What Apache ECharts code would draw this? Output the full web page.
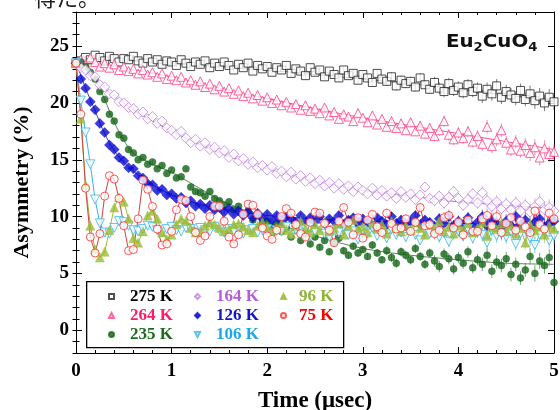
<!DOCTYPE html>
<html><head><meta charset="utf-8">
<script src="https://cdn.jsdelivr.net/npm/echarts@6/dist/echarts.min.js"></script>
<style>html,body{margin:0;padding:0;background:#fff}#c{width:560px;height:410px}</style>
</head><body><div id="c"></div>
<script>
const times = [0,0.05,0.1,0.15,0.2,0.25,0.3,0.35,0.4,0.45,
0.5,0.55,0.6,0.65,0.7,0.75,0.8,0.85,0.9,0.95,
1,1.05,1.1,1.15,1.2,1.25,1.3,1.35,1.4,1.45,
1.5,1.55,1.6,1.65,1.7,1.75,1.8,1.85,1.9,1.95,
2,2.05,2.1,2.15,2.2,2.25,2.3,2.35,2.4,2.45,
2.5,2.55,2.6,2.65,2.7,2.75,2.8,2.85,2.9,2.95,
3,3.05,3.1,3.15,3.2,3.25,3.3,3.35,3.4,3.45,
3.5,3.55,3.6,3.65,3.7,3.75,3.8,3.85,3.9,3.95,
4,4.05,4.1,4.15,4.2,4.25,4.3,4.35,4.4,4.45,
4.5,4.55,4.6,4.65,4.7,4.75,4.8,4.85,4.9,4.95,
5];

const a275 = [23.5,23.7,24.0,23.8,24.2,24.0,23.7,24.1,23.9,23.6,
23.9,23.8,24.1,23.7,23.5,23.9,23.6,23.8,23.4,23.7,
23.6,23.3,23.8,23.5,23.2,23.6,23.4,23.7,23.1,23.5,
23.2,23.6,23.3,22.9,23.4,23.1,23.5,22.8,23.3,23.0,
23.2,22.7,23.1,22.9,23.3,22.6,23.0,22.8,22.4,23.1,
22.7,22.9,22.3,22.8,22.5,22.2,22.9,22.4,22.6,22.0,
22.5,22.2,21.8,22.6,22.1,21.9,22.3,21.5,22.0,21.7,
21.9,21.4,22.2,21.6,21.2,21.8,21.3,21.0,21.7,21.1,
21.4,20.9,21.6,21.0,21.3,20.6,21.2,20.8,21.5,20.5,
21.0,20.7,20.4,21.1,20.3,20.8,20.2,20.6,20.0,20.5,
20.1];
const a264 = [23.5,23.8,23.4,24.0,23.6,23.2,23.5,23.1,23.4,22.9,
23.2,22.8,23.0,22.6,22.9,22.5,22.7,22.3,22.6,22.1,
22.4,22.0,22.3,21.8,22.0,21.6,21.9,21.4,21.7,21.2,
21.5,21.0,21.3,20.8,21.1,20.6,20.9,20.4,20.7,20.2,
20.5,20.0,20.3,19.8,20.1,19.6,19.9,19.4,19.8,19.3,
19.5,19.1,19.6,18.9,19.2,18.6,19.0,18.8,18.4,19.1,
18.7,18.3,18.9,18.1,18.6,17.9,18.4,17.8,18.2,17.6,
18.3,17.5,18.0,17.3,17.8,17.1,17.6,18.4,17.2,16.8,
17.4,16.9,17.5,16.6,17.1,16.4,17.9,16.2,16.8,17.6,
16.5,15.9,16.6,15.8,16.3,15.6,16.1,15.2,16.0,15.5,
15.7];
const a235 = [23.5,23.6,23.2,22.7,22.1,21.0,20.3,19.0,18.4,17.2,
16.9,15.9,15.6,15.0,15.2,14.6,14.8,14.2,14.5,13.8,
14.1,13.4,13.5,14.2,12.6,12.2,12.1,11.8,12.2,11.6,
11.4,11.0,11.3,10.6,10.9,10.2,10.5,9.7,10.1,9.4,
9.6,9.1,9.4,8.7,9.0,8.2,8.8,7.9,8.5,7.6,
8.2,7.3,7.9,6.9,7.7,8.1,7.0,6.6,7.4,6.8,
7.1,6.5,7.5,6.8,6.2,7.0,6.4,5.9,6.9,6.6,
6.2,7.2,6.5,5.8,6.8,6.1,5.6,6.7,6.3,5.4,
6.4,5.9,6.9,5.5,6.2,5.8,6.6,5.2,6.0,5.7,
6.3,4.9,5.8,4.6,5.3,6.5,5.0,6.1,5.7,6.4,
4.2];
const a164 = [23.5,23.1,22.9,22.4,22.3,21.6,21.4,20.8,20.7,20.1,
20.0,19.6,19.5,19.0,19.2,18.6,18.8,18.2,18.4,17.8,
17.6,17.2,17.5,16.9,16.5,16.8,16.2,16.5,15.9,16.1,
15.6,15.8,15.2,15.5,14.9,15.1,14.6,14.8,14.3,14.5,
14.1,14.4,13.8,14.0,13.5,13.9,13.3,13.6,13.1,13.4,
12.9,13.2,12.7,13.0,12.5,12.9,12.4,12.7,12.2,12.6,
12.3,12.0,12.5,11.9,12.3,11.8,12.1,11.6,12.2,11.7,
12.0,11.5,11.9,12.6,11.6,11.4,11.8,11.2,11.7,12.2,
11.6,11.0,11.5,12.0,11.2,12.1,11.4,10.9,11.3,10.7,
11.1,10.6,11.2,10.5,11.0,10.4,10.9,11.3,10.6,10.8,
10.5];
const a126 = [23.5,22.1,21.3,20.1,19.4,18.2,17.4,16.3,15.9,15.2,
14.9,14.3,14.2,13.6,13.4,12.9,12.8,12.3,12.4,11.9,
12.0,11.6,11.7,11.2,11.4,10.9,11.1,10.7,11.0,10.6,
10.8,10.4,10.7,10.2,10.5,10.1,10.4,9.9,10.3,9.8,
10.2,9.7,10.1,9.6,10.0,9.8,9.5,10.1,9.6,9.9,
9.5,10.0,9.4,9.8,9.6,10.1,9.3,9.7,9.9,9.4,
9.8,9.5,9.2,9.9,9.6,9.3,10.0,9.4,9.7,9.2,
9.6,10.1,9.3,9.7,9.5,9.1,9.8,9.4,10.0,9.2,
9.6,9.3,9.9,9.1,9.5,10.0,9.2,9.7,9.4,9.0,
9.6,9.2,10.0,9.3,9.7,8.9,9.5,9.8,9.1,9.4,
9.6];
const a106 = [23.5,20.2,17.4,14.6,11.5,9.4,8.6,8.5,9.0,9.6,
9.5,9.2,8.8,8.7,8.9,9.2,9.1,8.8,8.6,8.9,
9.1,8.8,8.7,9.0,8.9,8.6,9.0,8.8,8.7,9.1,
8.8,8.6,8.9,8.7,9.0,8.5,8.8,8.9,8.6,8.8,
8.9,8.5,8.8,8.7,9.1,8.4,8.8,8.6,8.9,8.3,
8.7,9.0,8.5,8.2,8.8,8.6,9.1,8.4,8.7,8.0,
8.8,8.5,9.0,8.3,8.7,8.1,8.9,8.4,8.6,8.2,
8.8,8.4,7.9,8.7,8.5,8.9,8.2,8.6,7.8,8.5,
8.7,8.3,8.9,8.1,8.6,8.4,7.7,8.8,8.3,8.5,
8.2,8.7,7.6,8.5,8.9,8.1,7.5,8.4,8.7,7.9,
8.3];
const a96 = [23.5,18.6,12.8,9.2,7.1,6.4,6.9,8.8,10.8,11.7,
11.3,9.8,8.1,7.7,8.7,10.1,10.5,9.8,8.6,8.0,
8.4,9.3,9.8,9.6,9.0,8.6,8.7,9.2,9.5,9.3,
9.0,8.7,8.9,9.3,9.4,9.1,8.8,8.6,9.2,9.5,
9.1,8.7,9.0,9.4,8.8,8.5,9.2,9.6,9.0,8.6,
9.3,8.8,9.5,8.7,9.0,9.4,8.4,9.2,9.7,8.9,
9.1,8.6,9.4,8.9,9.3,8.5,9.6,9.0,8.7,9.2,
8.8,9.5,9.0,8.4,9.3,8.9,9.6,8.7,9.1,8.5,
9.2,8.8,9.4,8.6,9.0,9.5,8.3,9.1,8.9,9.4,
8.7,9.2,8.5,9.0,7.7,9.3,8.8,9.1,8.4,9.2,
8.9];
const a75 = [23.5,19.0,12.5,8.2,6.8,8.5,11.8,13.6,13.3,11.6,
9.2,7.0,7.1,9.8,13.2,12.4,10.9,8.9,7.5,7.6,
8.7,10.6,11.5,11.4,10.0,8.6,7.9,8.3,10.0,10.9,
10.9,9.6,8.2,7.6,8.4,10.2,11.1,11.0,10.2,9.0,
8.3,8.0,8.8,10.0,10.7,10.3,9.3,8.5,8.2,9.5,
10.4,10.3,9.4,8.8,7.7,9.6,10.8,9.5,8.4,9.9,
8.1,9.7,10.2,9.1,8.6,10.3,9.4,8.9,9.0,9.8,
8.7,9.5,10.8,9.2,9.3,8.5,8.8,9.9,10.1,9.0,
9.5,8.4,9.7,8.7,8.7,9.8,10.1,9.2,10.0,8.6,
9.4,9.9,8.8,9.6,9.1,8.6,10.5,9.3,8.9,10.3,
9.8];

// fitted curves (smooth lines) sampled at fitTimes
const fitTimes = [0,0.1,0.2,0.3,0.4,0.5,0.6,0.8,1.0,1.25,1.5,1.75,2.0,2.5,3.0,3.5,4.0,4.5,5.0];
const f275 = [23.8,23.8,23.8,23.8,23.8,23.7,23.7,23.6,23.5,23.3,23.2,23.0,22.9,22.5,22.1,21.7,21.2,20.7,20.2];
const f264 = [23.6,23.5,23.4,23.3,23.2,23.0,22.9,22.6,22.3,21.8,21.3,20.8,20.4,19.5,18.7,18.0,17.3,16.6,15.9];
const f235 = [23.6,23.2,22.1,20.3,18.3,16.7,15.6,14.6,13.9,12.7,11.5,10.6,9.7,8.3,7.2,6.6,6.2,5.9,5.8];
const f164 = [23.6,22.9,22.1,21.3,20.6,20.0,19.4,18.4,17.5,16.5,15.6,14.9,14.2,13.1,12.3,11.8,11.3,11.0,10.7];
const f126 = [23.6,21.3,19.3,17.3,15.8,14.8,14.0,12.8,11.9,11.2,10.7,10.4,10.1,9.8,9.6,9.5,9.4,9.3,9.2];

// statistical error (half-length) at t = 0, 0.5, 1, ... 5 usec
const errTable = [0.1,0.12,0.15,0.18,0.22,0.27,0.33,0.4,0.5,0.6,0.72];

const yMajorTicks = [0,5,10,15,20,25];
const yMinorTicks = [-2,-1,0,1,2,3,4,5,6,7,8,9,10,11,12,13,14,15,16,17,18,19,20,21,22,23,24,25,26,27,28];
const titleText = 'Eu{s|2}CuO{s|4}';

const SERIF = '"Liberation Serif","Times New Roman",serif';
const defs = [
  {name:'275 K', data:a275, fit:f275, color:'#222222', text:'#000000', symbol:'rect', size:8, open:true, fitColor:'#666666'},
  {name:'264 K', data:a264, fit:f264, color:'#ff3d86', text:'#ff1a6a', symbol:'triangle', size:9, open:true, fitColor:'#ff4d8f'},
  {name:'235 K', data:a235, fit:f235, color:'#16661a', text:'#1a6b1f', symbol:'circle', size:7, open:false, fitColor:'#5a8a5a'},
  {name:'164 K', data:a164, fit:f164, color:'#bf7fe0', text:'#b35ed6', symbol:'diamond', size:10, open:true, fitColor:'#a070c4'},
  {name:'126 K', data:a126, fit:f126, color:'#0a0ad2', text:'#1414c8', symbol:'diamond', size:10, open:false, fitColor:'#3a3ab0'},
  {name:'106 K', data:a106, fit:null, color:'#36b4ea', text:'#19a8ec', symbol:'path://M0,0L10,0L5,10Z', size:9, open:true, fitColor:'#36b4ea'},
  {name:'96 K', data:a96, fit:null, color:'#9bbb35', text:'#8fb43a', symbol:'triangle', size:9, open:false, fitColor:'#9bbb35'},
  {name:'75 K', data:a75, fit:null, color:'#ff2a2a', text:'#ff0000', symbol:'circle', size:8, open:true, fitColor:'#d04040'}
];

const series = [];
defs.forEach((d, i) => {
  const pts = times.map((t, k) => [t, d.data[k]]);
  series.push({
    type:'custom', name:d.name+' err', z:1, silent:true,
    data: times.map((t, k) => [t, d.data[k], errTable[Math.round(t*2)]]),
    renderItem: (params, api) => {
      const p1 = api.coord([api.value(0), api.value(1) - api.value(2)]);
      const p2 = api.coord([api.value(0), api.value(1) + api.value(2)]);
      return {type:'line', shape:{x1:p1[0], y1:p1[1], x2:p2[0], y2:p2[1]}, style:{stroke:d.color, lineWidth:1, opacity:0.6}};
    }
  });
  if (d.fit) {
    series.push({type:'line', name:d.name+' fit', z:2, silent:true, smooth:0.3, showSymbol:false, symbol:'none',
      data: fitTimes.map((t, k) => [t, d.fit[k]]), lineStyle:{color:d.fitColor, width:1}});
  } else {
    series.push({type:'line', name:d.name+' fit', z:2, silent:true, showSymbol:false, symbol:'none',
      data: pts, lineStyle:{color:d.fitColor, width:1}});
  }
  series.push({
    type:'scatter', name:d.name, z:3+i, data:pts, symbol:d.symbol, symbolSize:d.size,
    itemStyle: d.open ? {color:'#ffffff', borderColor:d.color, borderWidth:1} : {color:d.color, borderColor:d.color, borderWidth:0.5}
  });
});

function legendFor(items, left, pad) {
  return {
    z:100, orient:'vertical', left:left, top:283, itemWidth:5, itemHeight:5, itemGap:2, selectedMode:false,
    data: items.map(d => ({name:d.name, icon:d.symbol, textStyle:{color:d.text}})),
    textStyle:{fontFamily:SERIF, fontWeight:'bold', fontSize:17, lineHeight:17, padding:[0,0,0,pad]}
  };
}

const axisLineStyle = {color:'#000', width:1};
const option = {
  animation:false,
  backgroundColor:'#fff',
  grid:{left:76, right:6, top:12, bottom:57, containLabel:false, outerBoundsMode:'none'},
  xAxis:[
    {type:'value', min:0, max:5, interval:1, position:'bottom',
     axisLine:{show:true, onZero:false, lineStyle:axisLineStyle},
     axisTick:{show:true, inside:true, length:6, lineStyle:axisLineStyle},
     minorTick:{show:true, splitNumber:5, length:3, lineStyle:{color:'#000', width:1}},
     splitLine:{show:false},
     axisLabel:{color:'#000', fontFamily:SERIF, fontWeight:'bold', fontSize:19, margin:9},
     name:'Time (μsec)', nameLocation:'middle', nameGap:37,
     nameTextStyle:{color:'#000', fontFamily:SERIF, fontWeight:'bold', fontSize:23}},
    {type:'value', min:0, max:5, interval:1, position:'top',
     axisLine:{show:true, onZero:false, lineStyle:axisLineStyle},
     axisTick:{show:true, inside:true, length:6, lineStyle:axisLineStyle},
     minorTick:{show:true, splitNumber:5, length:3, lineStyle:{color:'#000', width:1}},
     splitLine:{show:false}, axisLabel:{show:false}}
  ],
  yAxis:[
    {type:'value', min:-2, max:28, position:'left',
     axisLine:{show:true, onZero:false, lineStyle:axisLineStyle},
     axisTick:{show:true, inside:true, length:6, customValues:yMajorTicks, lineStyle:axisLineStyle},
     splitLine:{show:false},
     axisLabel:{customValues:yMajorTicks, color:'#000', fontFamily:SERIF, fontWeight:'bold', fontSize:19, margin:7},
     name:'Asymmetry (%)', nameLocation:'middle', nameGap:43,
     nameTextStyle:{color:'#000', fontFamily:SERIF, fontWeight:'bold', fontSize:22}},
    {type:'value', min:-2, max:28, position:'left',
     axisLine:{show:false}, splitLine:{show:false}, axisLabel:{show:false},
     axisTick:{show:true, inside:true, length:3.5, customValues:yMinorTicks, lineStyle:axisLineStyle}},
    {type:'value', min:-2, max:28, position:'right',
     axisLine:{show:true, onZero:false, lineStyle:axisLineStyle},
     axisTick:{show:true, inside:true, length:6, customValues:yMajorTicks, lineStyle:axisLineStyle},
     splitLine:{show:false}, axisLabel:{show:false}},
    {type:'value', min:-2, max:28, position:'right',
     axisLine:{show:false}, splitLine:{show:false}, axisLabel:{show:false},
     axisTick:{show:true, inside:true, length:3.5, customValues:yMinorTicks, lineStyle:axisLineStyle}}
  ],
  legend:[
    legendFor(defs.slice(0,3), 103, 11),
    legendFor(defs.slice(3,6), 189, 11),
    legendFor(defs.slice(6,8), 275, 8)
  ],
  graphic:[
    {type:'rect', left:86, top:281, z:50, shape:{width:257, height:66}, style:{fill:'#fff', stroke:'#000', lineWidth:1.3}},
    {type:'text', x:446, y:30, scaleX:1.1, z:60, style:{text:titleText, fill:'#111', font:'bold 18px "DejaVu Sans", sans-serif', verticalAlign:'top',
      rich:{s:{fontSize:12, fontWeight:'bold', fontFamily:'"DejaVu Sans", sans-serif', verticalAlign:'bottom', lineHeight:24, fill:'#111'}}}},
    {type:'text', left:34, top:-13, z:60, style:{text:'得た。', fill:'#222', font:'22px "Noto Sans CJK JP", sans-serif'}}
  ],
  series: series
};
const chart = echarts.init(document.getElementById('c'), null, {renderer:'canvas'});
chart.setOption(option);
</script></body></html>
